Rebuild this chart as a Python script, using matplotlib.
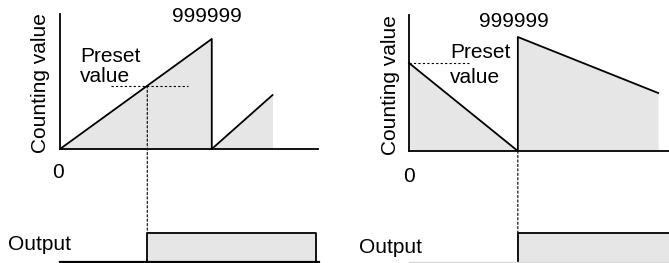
import matplotlib.pyplot as plt
from matplotlib.patches import ConnectionPatch

plt.rcParams['font.family'] = ['Liberation Sans', 'DejaVu Sans']

W, H = 669, 263
FILL = '#e6e6e6'

# up counter (left panel)
up_t = [0, 5, 5, 7]
up_count = [0, 999999, 0, 490000]
up_preset = 575000
up_out_t = [2.875, 2.875, 8.43, 8.43]
up_out = [0, 1, 1, 0]

# down counter (right panel)
down_t = [0, 3.6, 3.6, 8.24]
down_count = [772000, 0, 999999, 509000]
down_preset = 772000
down_out_t = [3.6, 3.6, 8.62]
down_out = [0, 1, 1]


def add_ax(fig, x0, x1, y_top, y_bot):
    return fig.add_axes([x0 / W, 1 - y_bot / H, (x1 - x0) / W, (y_bot - y_top) / H])


def ftext(fig, x, y, s, **kw):
    fig.text(x / W, 1 - y / H, s, fontsize=15, **kw)


def style_count(ax):
    for side in ['top', 'right']:
        ax.spines[side].set_visible(False)
    for side in ['left', 'bottom']:
        ax.spines[side].set_linewidth(1.3)
    ax.set_xticks([])
    ax.set_yticks([])
    ax.patch.set_alpha(0)


def style_out(ax):
    ax.axis('off')
    ax.set_ylim(-0.0345, 1.276)


fig = plt.figure(figsize=(W / 100, H / 100), dpi=100)

# ---- left panel ----
ax1 = add_ax(fig, 60, 318, 14, 149)
ax1.set_xlim(0, 8.5)
ax1.set_ylim(0, 1227000)
style_count(ax1)
ax1.fill_between(up_t, up_count, 0, color=FILL, lw=0)
ax1.plot(up_t, up_count, color='black', lw=1.3, clip_on=False)
ax1.plot([1.68, 4.22], [up_preset, up_preset], color='black', lw=0.8, ls=(0, (2, 2)))

ax1o = add_ax(fig, 60, 318, 225, 263)
ax1o.set_xlim(0, 8.5)
style_out(ax1o)
ax1o.fill_between(up_out_t, up_out, 0, color=FILL, lw=0)
ax1o.plot(up_out_t, up_out, color='black', lw=1.3)
ax1o.plot([0, 8.53], [0, 0], color='black', lw=1.6, clip_on=False)

cross_t = up_out_t[0]
fig.add_artist(ConnectionPatch((cross_t, up_preset), (cross_t, 1), 'data', 'data',
                               axesA=ax1, axesB=ax1o, color='black', lw=0.8,
                               ls=(0, (2, 2))))

ftext(fig, 40, 83, 'Counting value', rotation=90, ha='center', va='center')
ftext(fig, 58, 178, '0', ha='center', va='baseline')
ftext(fig, 207, 22, '999999', ha='center', va='baseline')
ftext(fig, 80, 62, 'Preset', ha='left', va='baseline')
ftext(fig, 80, 82, 'value', ha='left', va='baseline')
ftext(fig, 8, 250, 'Output', ha='left', va='baseline')

# ---- right panel ----
ax2 = add_ax(fig, 409, 669, 15, 151)
ax2.set_xlim(0, 8.6)
ax2.set_ylim(0, 1193000)
style_count(ax2)
ax2.fill_between(down_t, down_count, 0, color=FILL, lw=0)
ax2.plot(down_t, down_count, color='black', lw=1.3, clip_on=False)
ax2.plot([0, 2.0], [down_preset, down_preset], color='black', lw=0.8, ls=(0, (2, 2)))

ax2o = add_ax(fig, 409, 669, 225, 263)
ax2o.set_xlim(0, 8.6)
style_out(ax2o)
ax2o.fill_between(down_out_t, down_out, 0, color=FILL, lw=0)
ax2o.plot(down_out_t, down_out, color='black', lw=1.3, clip_on=False)
ax2o.plot([0, 8.6], [0, 0], color='#d9d9d9', lw=1.0, clip_on=False)

drop_t = down_t[1]
fig.add_artist(ConnectionPatch((drop_t, 0), (drop_t, 1), 'data', 'data',
                               axesA=ax2, axesB=ax2o, color='black', lw=0.8,
                               ls=(0, (2, 2))))

ftext(fig, 390, 85, 'Counting value', rotation=90, ha='center', va='center')
ftext(fig, 409, 182, '0', ha='center', va='baseline')
ftext(fig, 514, 27, '999999', ha='center', va='baseline')
ftext(fig, 450, 58, 'Preset', ha='left', va='baseline')
ftext(fig, 450, 83, 'value', ha='left', va='baseline')
ftext(fig, 359, 253, 'Output', ha='left', va='baseline')

fig.savefig('out.png', dpi=100)
